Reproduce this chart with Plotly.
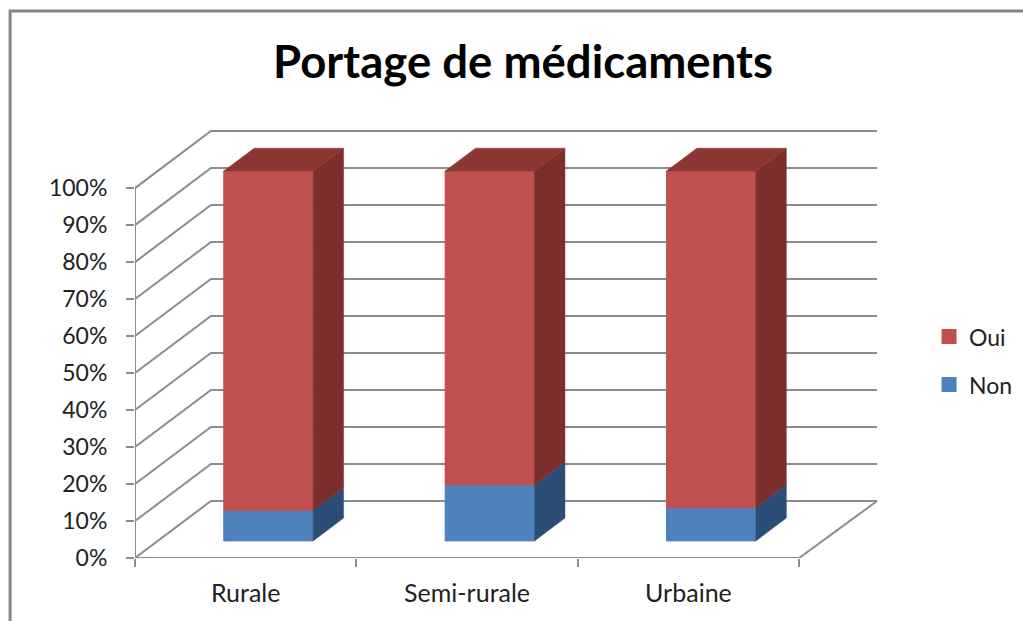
"""Portage de médicaments: 3D-look stacked 100% columns."""

import plotly.graph_objects as go

categories = ['Rurale', 'Semi-rurale', 'Urbaine']
non_values = [8.3, 15.2, 9.0]
oui_values = [91.7, 84.8, 91.0]
y_ticks = [0, 10, 20, 30, 40, 50, 60, 70, 80, 90, 100]
y_tick_labels = ['0%', '10%', '20%', '30%', '40%', '50%', '60%', '70%', '80%', '90%', '100%']

FONT = 'Lato, sans-serif'
TEXT = '#222222'
GRID = '#8c8c8c'
RED = '#c0504d'
RED_SIDE = '#7b2e2c'
RED_TOP = '#8c3634'
BLUE = '#4f81bd'
BLUE_SIDE = '#2c4d75'

WIDTH, HEIGHT = 1023, 621
LEFT, BOTTOM = 134.5, 63.3
X_UNIT = 221.5    # pixels per category
Y_UNIT = 3.697    # pixels per percent

# oblique projection: how far the back wall sits from the front plane
DEPTH_X = 76 / X_UNIT
DEPTH_Y = 57 / Y_UNIT
WALL_END = len(categories) + 78 / X_UNIT   # back wall runs a bit past the front edge
BAR_WIDTH = 89.5 / X_UNIT
BAR_NEAR = 0.30   # share of the floor depth in front of the bars
BAR_DEEP = 0.40   # share of the floor depth taken by the bars

near_x = BAR_NEAR * DEPTH_X
near_y = BAR_NEAR * DEPTH_Y
deep_x = BAR_DEEP * DEPTH_X
deep_y = BAR_DEEP * DEPTH_Y

bar_x = [i + 0.5 + near_x for i in range(len(categories))]
x_max = (WIDTH - LEFT) / X_UNIT
y_max = (HEIGHT - BOTTOM) / Y_UNIT


def paper_x(px):
    return (px - LEFT) / (WIDTH - LEFT)


def paper_y(py):
    return (HEIGHT - BOTTOM - py) / (HEIGHT - BOTTOM)


def add_face(fig, xs, ys, color, group):
    fig.add_trace(go.Scatter(
        x=xs, y=ys, mode='lines', fill='toself', fillcolor=color,
        line=dict(color=color, width=0.5), legendgroup=group,
        showlegend=False, hoverinfo='skip'
    ))


fig = go.Figure()

# legend entries only, the thicker outline gives the larger swatch
for name, color in [('Oui', RED), ('Non', BLUE)]:
    fig.add_trace(go.Bar(
        x=[None], y=[None], name=name, legendgroup=name,
        marker=dict(color=color, line=dict(color=color, width=3))
    ))

# front faces
fig.add_trace(go.Bar(
    x=bar_x, y=non_values, base=[near_y] * len(categories), width=BAR_WIDTH,
    name='Non', legendgroup='Non', showlegend=False,
    marker=dict(color=BLUE, line=dict(color=BLUE, width=1)),
    customdata=categories, hovertemplate='%{customdata}: %{y}%<extra>Non</extra>'
))
fig.add_trace(go.Bar(
    x=bar_x, y=oui_values, base=[near_y + v for v in non_values], width=BAR_WIDTH,
    name='Oui', legendgroup='Oui', showlegend=False,
    marker=dict(color=RED, line=dict(color=RED, width=1)),
    customdata=categories, hovertemplate='%{customdata}: %{y}%<extra>Oui</extra>'
))

# side and top faces
for x0, non, oui in zip(bar_x, non_values, oui_values):
    x1 = x0 + BAR_WIDTH / 2
    xl = x0 - BAR_WIDTH / 2
    low = near_y
    mid = near_y + non
    top = mid + oui
    add_face(fig, [x1, x1 + deep_x, x1 + deep_x, x1, x1],
             [low, low + deep_y, mid + deep_y, mid, low], BLUE_SIDE, 'Non')
    add_face(fig, [x1, x1 + deep_x, x1 + deep_x, x1, x1],
             [mid, mid + deep_y, top + deep_y, top, mid], RED_SIDE, 'Oui')
    add_face(fig, [xl, x1, x1 + deep_x, xl + deep_x, xl],
             [top, top, top + deep_y, top + deep_y, top], RED_TOP, 'Oui')

# front edges of the axes, left unclipped so the full stroke shows
fig.add_trace(go.Scatter(
    x=[0, 0, None, 0, len(categories)], y=[0, y_ticks[-1], None, 0, 0],
    mode='lines', line=dict(color=GRID, width=2), cliponaxis=False,
    showlegend=False, hoverinfo='skip'
))

# wall gridlines and floor sit behind the bars
shapes = []
for v in y_ticks:
    shapes.append(dict(
        type='path', xref='x', yref='y', layer='below',
        path=f'M 0 {v} L {DEPTH_X} {v + DEPTH_Y} L {WALL_END} {v + DEPTH_Y}',
        line=dict(color=GRID, width=2)
    ))
shapes.append(dict(
    type='path', xref='x', yref='y', layer='below',
    path=f'M {len(categories)} 0 L {WALL_END} {DEPTH_Y}',
    line=dict(color=GRID, width=2)
))
# outer chart frame, only left and top show in the crop
shapes.append(dict(
    type='path', xref='paper', yref='paper', layer='below',
    path=(f'M {paper_x(9.5)} {paper_y(630)} L {paper_x(9.5)} {paper_y(11)} '
          f'L {paper_x(1030)} {paper_y(11)}'),
    line=dict(color='#868686', width=3)
))

fig.update_layout(
    width=WIDTH, height=HEIGHT,
    autosize=False,
    margin=dict(l=LEFT, r=0, t=0, b=BOTTOM, pad=0),
    paper_bgcolor='white',
    plot_bgcolor='white',
    barmode='overlay',
    font=dict(family=FONT, color=TEXT, size=23),
    title=dict(
        text='<b>Portage de médicaments</b>',
        font=dict(family=FONT, size=45.5, color='#000000'),
        x=523 / WIDTH, xanchor='center', xref='container',
        y=1 - 62 / HEIGHT, yanchor='middle', yref='container'
    ),
    xaxis=dict(
        range=[0, x_max], showgrid=False, zeroline=False, showline=False,
        tickmode='array',
        tickvals=[i + 0.5 for i in range(len(categories))],
        ticktext=categories, ticks='', ticklabelstandoff=18,
        tickfont=dict(family=FONT, size=25, color=TEXT),
        minor=dict(tickmode='array', tickvals=list(range(len(categories) + 1)),
                   ticks='outside', ticklen=8, tickwidth=2, tickcolor=GRID, showgrid=False)
    ),
    yaxis=dict(
        range=[0, y_max], showgrid=False, zeroline=False, showline=False,
        tickmode='array', tickvals=y_ticks, ticktext=y_tick_labels,
        ticks='outside', ticklen=8, tickwidth=2, tickcolor=GRID, ticklabelstandoff=14,
        tickfont=dict(family=FONT, size=23, color=TEXT)
    ),
    legend=dict(
        x=paper_x(929), y=paper_y(315), xanchor='left', yanchor='top',
        traceorder='grouped', tracegroupgap=15,
        font=dict(family=FONT, size=23, color=TEXT),
        bgcolor='rgba(0,0,0,0)'
    ),
    shapes=shapes
)

fig.write_html('out.html', config=dict(displayModeBar=False),
               post_script="document.body.style.margin = '0';")
